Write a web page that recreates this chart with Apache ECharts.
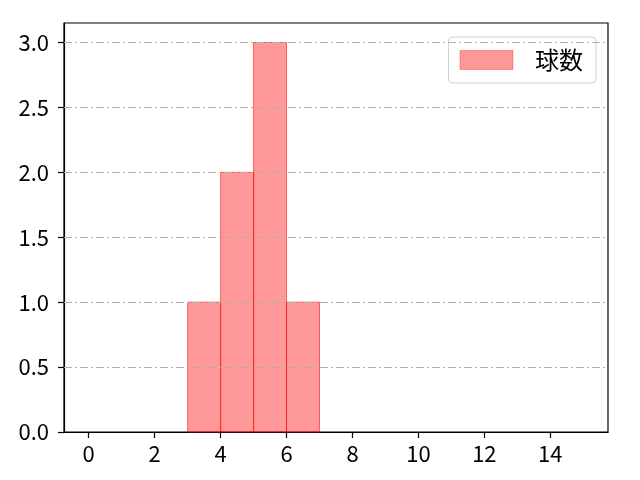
<!DOCTYPE html>
<html>
<head>
<meta charset="utf-8">
<script src="https://cdn.jsdelivr.net/npm/echarts@6/dist/echarts.min.js"></script>
<style>
  html, body { margin: 0; padding: 0; background: #fff; }
  #chart { width: 640px; height: 480px; }
</style>
</head>
<body>
<div id="chart"></div>
<script>
// histogram bins (left edge, right edge) and counts
const binLeft = [3, 4, 5, 6]
const binRight = [4, 5, 6, 7]
const counts = [1, 2, 3, 1]
const xTicks = [0, 2, 4, 6, 8, 10, 12, 14]
const yTicks = [0, 0.5, 1, 1.5, 2, 2.5, 3]
const seriesName = '球数'

const font = '"Noto Sans CJK JP", "Noto Sans", sans-serif'

const chart = echarts.init(document.getElementById('chart'))

chart.setOption({
  animation: false,
  backgroundColor: '#fff',
  textStyle: { fontFamily: font },
  grid: {
    left: 64, right: 32, top: 23, bottom: 48,
    show: true, borderColor: '#000', borderWidth: 1.2,
    containLabel: false
  },
  legend: {
    right: 44, top: 37,
    orient: 'vertical',
    padding: [11, 13, 11, 11],
    itemWidth: 53, itemHeight: 19, itemGap: 6,
    borderColor: '#d0d0d0', borderWidth: 1, borderRadius: 4,
    backgroundColor: '#fff',
    formatter: name => '{t|' + name + '}',
    textStyle: {
      color: '#000', fontFamily: font,
      rich: { t: { fontSize: 24, color: '#000', fontFamily: font, padding: [0, 0, 0, 17] } }
    },
    data: [{ name: seriesName, icon: 'rect', itemStyle: { color: 'rgba(255,0,0,0.4)', borderColor: 'rgba(255,0,0,0.3)', borderWidth: 1 } }]
  },
  xAxis: {
    type: 'value',
    min: -0.75, max: 15.75,
    axisLine: { show: true, onZero: false, lineStyle: { color: '#000', width: 1.2 } },
    axisTick: { show: true, length: 6, customValues: xTicks, lineStyle: { color: '#000', width: 1.2 } },
    axisLabel: { customValues: xTicks, color: '#000', fontSize: 22, margin: 11, fontFamily: font },
    splitLine: { show: false }
  },
  yAxis: {
    type: 'value',
    min: 0, max: 3.15,
    axisLine: { show: true, onZero: false, lineStyle: { color: '#000', width: 1.2 } },
    axisTick: { show: true, length: 6, customValues: yTicks, lineStyle: { color: '#000', width: 1.2 } },
    axisLabel: {
      customValues: yTicks, color: '#000', fontSize: 22, margin: 15, fontFamily: font,
      formatter: v => v.toFixed(1)
    },
    splitLine: { show: false }
  },
  series: [
    {
      name: seriesName,
      type: 'custom',
      data: counts.map((c, i) => [binLeft[i], binRight[i], c]),
      encode: { x: [0, 1], y: 2 },
      renderItem: (params, api) => {
        const p0 = api.coord([api.value(0), 0])
        const p1 = api.coord([api.value(1), api.value(2)])
        return {
          type: 'rect',
          shape: { x: p0[0], y: p1[1], width: p1[0] - p0[0], height: p0[1] - p1[1] },
          style: { fill: 'rgba(255,0,0,0.4)', stroke: 'rgba(255,0,0,0.55)', lineWidth: 1 }
        }
      },
      z: 2
    },
    {
      // horizontal dash-dot grid drawn above the bars, as in the reference
      type: 'line',
      data: [],
      silent: true,
      z: 3,
      markLine: {
        symbol: 'none',
        silent: true,
        label: { show: false },
        lineStyle: { color: '#b0b0b0', width: 1, type: [8, 3, 2, 3] },
        data: yTicks.filter(v => v > 0).map(v => ({ yAxis: v }))
      }
    }
  ]
})
</script>
</body>
</html>
